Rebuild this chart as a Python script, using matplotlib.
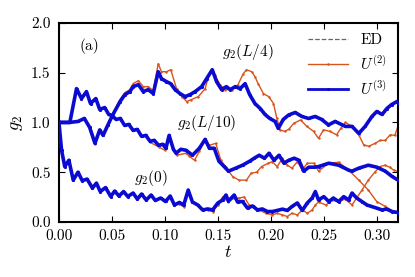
import matplotlib
matplotlib.use("Agg")
import matplotlib.pyplot as plt

plt.rcParams["font.family"] = "cmr10"
plt.rcParams["mathtext.fontset"] = "cm"
plt.rcParams["axes.formatter.use_mathtext"] = True

# g2(0)
t0_u3 = [0, 0.0025, 0.0055, 0.0094, 0.0135, 0.018, 0.022, 0.0266, 0.0316, 0.0354, 0.039, 0.044,
         0.0489, 0.0526, 0.0567, 0.061, 0.065, 0.070, 0.074, 0.078, 0.0824, 0.087, 0.091, 0.096,
         0.1006, 0.105, 0.109, 0.1137, 0.1178, 0.122, 0.126, 0.131, 0.1357, 0.1404, 0.145, 0.15,
         0.1545, 0.1576, 0.16, 0.1654, 0.1686, 0.1733, 0.178, 0.1827, 0.1874, 0.192, 0.1968, 0.2014,
         0.206, 0.211, 0.2155, 0.22, 0.225, 0.2297, 0.2344, 0.239, 0.242, 0.245, 0.25, 0.2547, 0.259,
         0.264, 0.2688, 0.2735, 0.2766, 0.281, 0.286, 0.2907, 0.295, 0.3, 0.305, 0.309, 0.3143, 0.32]
g0_u3 = [1.0, 0.72, 0.556, 0.62, 0.42, 0.50, 0.415, 0.43, 0.34, 0.39, 0.305, 0.345,
         0.255, 0.31, 0.26, 0.305, 0.255, 0.29, 0.23, 0.28, 0.22, 0.27, 0.215, 0.24,
         0.205, 0.26, 0.17, 0.195, 0.17, 0.32, 0.2, 0.17, 0.12, 0.13, 0.12, 0.19,
         0.22, 0.27, 0.21, 0.27, 0.2, 0.205, 0.138, 0.16, 0.12, 0.13, 0.104, 0.104,
         0.115, 0.128, 0.115, 0.155, 0.19, 0.115, 0.19, 0.24, 0.305, 0.22, 0.254, 0.204, 0.24,
         0.204, 0.254, 0.22, 0.29, 0.24, 0.204, 0.17, 0.155, 0.138, 0.12, 0.13, 0.104, 0.094]

t0_u2 = t0_u3[:27] + [0.1137, 0.1178, 0.122, 0.126, 0.131, 0.1357, 0.1404, 0.145, 0.15, 0.1545,
                      0.16, 0.1654, 0.17, 0.1748, 0.1796, 0.1843, 0.189, 0.1953, 0.2014, 0.206,
                      0.211, 0.2155, 0.22, 0.225, 0.2297, 0.2344, 0.239, 0.242, 0.245, 0.252,
                      0.258, 0.264, 0.27, 0.2766, 0.281, 0.286, 0.292, 0.2986, 0.303, 0.308,
                      0.312, 0.316, 0.32]
g0_u2 = g0_u3[:27] + [0.18, 0.15, 0.31, 0.2, 0.165, 0.125, 0.12, 0.104, 0.17, 0.25,
                      0.2, 0.24, 0.24, 0.25, 0.17, 0.155, 0.12, 0.087, 0.07, 0.087,
                      0.07, 0.054, 0.087, 0.07, 0.12, 0.087, 0.12, 0.17, 0.2, 0.17,
                      0.22, 0.2, 0.23, 0.17, 0.24, 0.32, 0.42, 0.506, 0.556, 0.57,
                      0.55, 0.52, 0.506]

# g2(L/10)
t10_u3 = [0, 0.005, 0.0103, 0.0166, 0.0213, 0.026, 0.0298, 0.0348, 0.0385, 0.0432, 0.047, 0.050,
          0.054, 0.058, 0.062, 0.066, 0.070, 0.074, 0.078, 0.082, 0.086, 0.090, 0.094, 0.098,
          0.101, 0.104, 0.108, 0.1106, 0.115, 0.12, 0.126, 0.1325, 0.138, 0.142, 0.1466, 0.151,
          0.1556, 0.16, 0.1668, 0.1733, 0.18, 0.1843, 0.189, 0.194, 0.1983, 0.203, 0.2077, 0.2124,
          0.217, 0.222, 0.2265, 0.231, 0.2359, 0.2406, 0.245, 0.2547, 0.264, 0.2735, 0.2766, 0.283,
          0.292, 0.3, 0.308, 0.314, 0.32]
g10_u3 = [1.0, 1.0, 1.0, 1.34, 1.24, 1.31, 1.19, 1.24, 1.13, 1.15, 1.08, 1.07,
          1.03, 1.04, 0.97, 0.98, 0.92, 0.93, 0.86, 0.87, 0.81, 0.82, 0.77, 0.78,
          0.74, 0.87, 0.73, 0.69, 0.73, 0.72, 0.67, 0.74, 0.83, 0.74, 0.74, 0.61,
          0.56, 0.51, 0.54, 0.57, 0.61, 0.64, 0.67, 0.64, 0.69, 0.62, 0.67, 0.59,
          0.62, 0.64, 0.62, 0.51, 0.55, 0.55, 0.556, 0.59, 0.57, 0.52, 0.51, 0.54,
          0.57, 0.55, 0.51, 0.46, 0.42]

t10_u2 = t10_u3[:20] + [0.086, 0.094, 0.1, 0.104, 0.111, 0.12, 0.123, 0.128, 0.1325, 0.138,
                        0.142, 0.148, 0.1528, 0.1575, 0.164, 0.17, 0.177, 0.1815, 0.1866, 0.1913,
                        0.1975, 0.2014, 0.206, 0.211, 0.2155, 0.22, 0.225, 0.2297, 0.2344, 0.2406,
                        0.245, 0.2547, 0.264, 0.2735, 0.283, 0.292, 0.3, 0.308, 0.316, 0.32]
g10_u2 = g10_u3[:20] + [0.80, 0.755, 0.72, 0.85, 0.67, 0.69, 0.66, 0.62, 0.71, 0.83,
                        0.77, 0.79, 0.62, 0.55, 0.455, 0.42, 0.42, 0.49, 0.50, 0.556,
                        0.59, 0.606, 0.556, 0.64, 0.57, 0.54, 0.606, 0.523, 0.59, 0.59,
                        0.51, 0.59, 0.60, 0.52, 0.42, 0.32, 0.204, 0.155, 0.104, 0.09]

# g2(L/4)
t4_u3 = [0, 0.01, 0.018, 0.024, 0.029, 0.034, 0.0385, 0.0417, 0.046, 0.051, 0.0577, 0.0623,
         0.067, 0.070, 0.075, 0.0796, 0.0843, 0.089, 0.0937, 0.0968, 0.1015, 0.1055, 0.1096, 0.1143,
         0.119, 0.1238, 0.1285, 0.1347, 0.1394, 0.1447, 0.1488, 0.1535, 0.158, 0.1617, 0.1664, 0.171,
         0.1757, 0.18, 0.185, 0.19, 0.1945, 0.199, 0.204, 0.207, 0.2117, 0.2168, 0.223, 0.2293,
         0.2356, 0.2418, 0.248, 0.2544, 0.2607, 0.2704, 0.2766, 0.283, 0.289, 0.2954, 0.3, 0.305,
         0.3095, 0.314, 0.319, 0.32]
g4_u3 = [1.0, 1.0, 1.01, 1.04, 0.95, 0.79, 0.925, 0.87, 0.97, 1.08, 1.21, 1.28,
         1.31, 1.36, 1.38, 1.31, 1.33, 1.29, 1.51, 1.44, 1.41, 1.39, 1.33, 1.29,
         1.26, 1.28, 1.31, 1.36, 1.44, 1.53, 1.41, 1.33, 1.36, 1.33, 1.36, 1.34,
         1.39, 1.28, 1.19, 1.14, 1.08, 1.04, 1.01, 0.94, 1.03, 1.075, 1.10, 1.06,
         1.04, 1.06, 1.03, 0.975, 1.01, 0.96, 0.96, 0.89, 0.96, 1.06, 1.11, 1.08,
         1.14, 1.18, 1.21, 1.20]

t4_u2 = [0, 0.01, 0.018, 0.024, 0.029, 0.034, 0.0385, 0.0417, 0.046, 0.051, 0.0577, 0.0623,
         0.067, 0.070, 0.075, 0.0796, 0.0843, 0.089, 0.0937, 0.0968, 0.1015, 0.1055, 0.111, 0.116,
         0.1206, 0.125, 0.1316, 0.138, 0.1425, 0.147, 0.152, 0.1567, 0.163, 0.169, 0.174, 0.177,
         0.182, 0.185, 0.188, 0.193, 0.198, 0.2025, 0.2057, 0.2088, 0.213, 0.2168, 0.2215, 0.228,
         0.234, 0.2403, 0.245, 0.2497, 0.256, 0.262, 0.266, 0.2704, 0.2766, 0.283, 0.2876, 0.2923,
         0.2985, 0.303, 0.308, 0.3126, 0.317, 0.32]
g4_u2 = [1.0, 1.0, 1.01, 1.04, 0.95, 0.78, 0.92, 0.87, 0.97, 1.09, 1.23, 1.30,
         1.33, 1.39, 1.42, 1.36, 1.36, 1.32, 1.59, 1.51, 1.51, 1.53, 1.34, 1.26,
         1.21, 1.23, 1.26, 1.34, 1.51, 1.48, 1.38, 1.33, 1.33, 1.38, 1.49, 1.53,
         1.51, 1.46, 1.39, 1.29, 1.26, 1.19, 1.04, 0.925, 0.91, 0.93, 0.99, 1.025,
         0.96, 0.91, 0.84, 0.925, 0.91, 0.875, 0.94, 1.0, 0.96, 0.875, 0.775, 0.76,
         0.79, 0.82, 0.82, 0.875, 0.87, 0.96]

red = "#d9541a"
blue = "#0a0ad2"

fig = plt.figure(figsize=(4.15, 2.77), dpi=100)
ax = fig.add_axes([0.142, 0.199, 0.817, 0.718])

curves = [(t0_u3, g0_u3, t0_u2, g0_u2), (t10_u3, g10_u3, t10_u2, g10_u2), (t4_u3, g4_u3, t4_u2, g4_u2)]
for i, (ta, ga, tb, gb) in enumerate(curves):
    lab = i == 0
    ax.plot(ta, ga, "--", color="0.4", lw=0.9, zorder=1, label="ED" if lab else None)
    ax.plot(tb, gb, "-", color=red, lw=1.0, zorder=2, marker=".", ms=1.5,
            label="$U^{(2)}$" if lab else None)
    ax.plot(ta, ga, "-", color=blue, lw=2.6, zorder=3, marker=".", ms=2.5,
            label="$U^{(3)}$" if lab else None)

ax.set_xlim(0, 0.32)
ax.set_ylim(0, 2.0)
ax.set_xticks([0, 0.05, 0.1, 0.15, 0.2, 0.25, 0.3])
ax.set_xticklabels(["0.00", "0.05", "0.10", "0.15", "0.20", "0.25", "0.30"])
ax.set_yticks([0, 0.5, 1.0, 1.5, 2.0])
ax.set_yticklabels(["0.0", "0.5", "1.0", "1.5", "2.0"])
ax.tick_params(direction="in", top=True, right=True, labelsize=11, length=4, width=0.8)
ax.tick_params(axis="x", pad=5)
ax.tick_params(axis="y", pad=6)
for s in ax.spines.values():
    s.set_linewidth(1.5)
ax.set_xlabel("$t$", fontsize=13, labelpad=1)
ax.set_ylabel("$g_2$", fontsize=13, labelpad=4)

ax.text(0.029, 1.77, "(a)", fontsize=11, ha="center", va="center")
ax.text(0.178, 1.71, "$g_2(L/4)$", fontsize=11, ha="center", va="center")
ax.text(0.139, 0.995, "$g_2(L/10)$", fontsize=11, ha="center", va="center")
ax.text(0.087, 0.44, "$g_2(0)$", fontsize=11, ha="center", va="center")

leg = ax.legend(loc="upper right", frameon=False, fontsize=11, handlelength=2.6,
                borderaxespad=0.3, labelspacing=0.45, handletextpad=0.8)
for h in leg.get_lines():
    if h.get_color() == blue:
        h.set_linewidth(2.0)

plt.savefig("out.png", dpi=100)
